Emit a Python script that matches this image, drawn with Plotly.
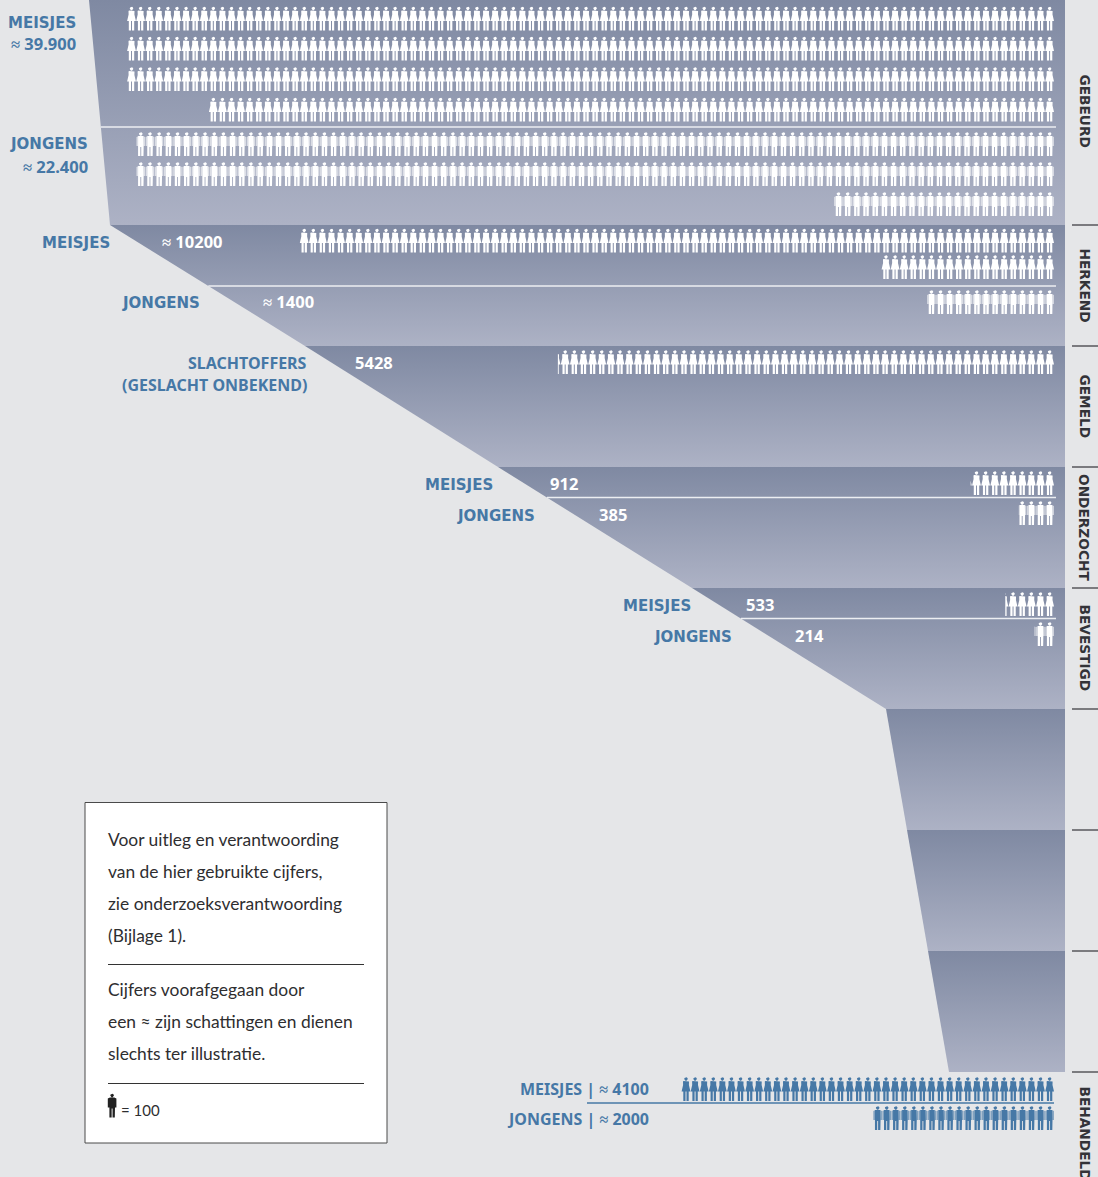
import math
import plotly.graph_objects as go

# ---------- data ----------
STAGES = ["GEBEURD", "HERKEND", "GEMELD", "ONDERZOCHT", "BEVESTIGD", "", "", "", "BEHANDELD"]
# left edge of the funnel at each stage boundary, and the boundary height
FUNNEL_EDGE = [89, 110, 305, 498, 692, 886, 907, 928, 949]
STAGE_BOUNDARY = [0, 225, 346, 467, 588, 709, 830, 951, 1072]
STAGE_LABEL_Y = [111, 285, 406, 527.5, 648, None, None, None, 1133]

# icons per row (1 icon = 100 people), rightmost icon first
MEISJES_GEBEURD = [102, 102, 102, 93]      # ~39.900
JONGENS_GEBEURD = [100, 100, 24]           # ~22.400
MEISJES_HERKEND = [83, 19]                 # ~10200
JONGENS_HERKEND = [14]                     # ~1400
ONBEKEND_GEMELD = [54.28]                  # 5428
MEISJES_ONDERZOCHT = [9.12]                # 912
JONGENS_ONDERZOCHT = [3.85]                # 385
MEISJES_BEVESTIGD = [5.33]                 # 533
JONGENS_BEVESTIGD = [2.14]                 # 214
MEISJES_BEHANDELD = [41]                   # ~4100
JONGENS_BEHANDELD = [20]                   # ~2000

BG = "#e5e6e8"
TOP = "#7f89a2"
BOTTOM = "#adb2c5"
BLUE = "#4678a6"
INK = "#333338"
RIGHT = 1054
RIGHT_FUNNEL = 1065
STEP = 9.09


def circle(cx, cy, r, n=10):
    return [(cx + r * math.cos(2 * math.pi * i / n), cy + r * math.sin(2 * math.pi * i / n)) for i in range(n)]


GIRL = [
    circle(0, 2, 1.8),
    [(-2.4, 4), (2.4, 4), (3.0, 4.6), (2.9, 8), (4.4, 14.4), (-4.4, 14.4), (-2.9, 8), (-3.0, 4.6)],
    [(-2.7, 14), (-0.5, 14), (-0.5, 24), (-2.7, 24)],
    [(0.5, 14), (2.7, 14), (2.7, 24), (0.5, 24)],
]
BOY_BODY = [
    circle(0, 2, 1.85),
    [(-2.7, 4), (2.7, 4), (2.9, 14), (2.7, 24), (0.45, 24), (0.45, 15),
     (-0.45, 15), (-0.45, 24), (-2.7, 24), (-2.9, 14)],
]
BOY_ARMS = [
    [(-4.3, 5), (-2.7, 4.2), (-2.7, 14), (-4.3, 14)],
    [(2.7, 4.2), (4.3, 5), (4.3, 14), (2.7, 14)],
]


def clip_left(poly, xmin):
    out = []
    for i, (x0, y0) in enumerate(poly):
        x1, y1 = poly[(i + 1) % len(poly)]
        if x0 >= xmin:
            out.append((x0, y0))
        if (x0 >= xmin) != (x1 >= xmin):
            t = (xmin - x0) / (x1 - x0)
            out.append((xmin, y0 + t * (y1 - y0)))
    return out


def icons_xy(rows, tops, shape, step=STEP, right=RIGHT):
    xs, ys = [], []
    half = 4.4
    for count, top in zip(rows, tops):
        whole = math.floor(count)
        frac = count - whole
        n = whole + (1 if frac > 0 else 0)
        for i in range(n):
            cx = right - half - i * step
            for part in shape:
                poly = [(cx + px, top + py) for px, py in part]
                if i == whole:
                    poly = clip_left(poly, cx + half - frac * step)
                if len(poly) < 3:
                    continue
                xs += [p[0] for p in poly] + [poly[0][0], None]
                ys += [p[1] for p in poly] + [poly[0][1], None]
    return xs, ys


fig = go.Figure()

# funnel
for i in range(len(STAGE_BOUNDARY) - 1):
    y0, y1 = STAGE_BOUNDARY[i], STAGE_BOUNDARY[i + 1]
    x0, x1 = FUNNEL_EDGE[i], FUNNEL_EDGE[i + 1]
    fig.add_trace(go.Scatter(
        x=[x0, RIGHT_FUNNEL, RIGHT_FUNNEL, x1, x0], y=[y0, y0, y1, y1, y0],
        mode="lines", line=dict(width=0), fill="toself",
        fillgradient=dict(type="vertical", start=y0, stop=y1,
                          colorscale=[[0, TOP], [1, BOTTOM]]),
        hoverinfo="skip", showlegend=False))


def edge_at(y):
    for i in range(len(STAGE_BOUNDARY) - 1):
        if STAGE_BOUNDARY[i] <= y <= STAGE_BOUNDARY[i + 1]:
            t = (y - STAGE_BOUNDARY[i]) / (STAGE_BOUNDARY[i + 1] - STAGE_BOUNDARY[i])
            return FUNNEL_EDGE[i] + t * (FUNNEL_EDGE[i + 1] - FUNNEL_EDGE[i])


def add_icons(rows, tops, shape, color, step, opacity=1.0, right=RIGHT):
    xs, ys = icons_xy(rows, tops, shape, step, right)
    fig.add_trace(go.Scatter(x=xs, y=ys, mode="lines", line=dict(width=0), fill="toself",
                             fillcolor=color, opacity=opacity, hoverinfo="skip", showlegend=False))


# icon blocks
GIRL_BLOCKS = [
    (MEISJES_GEBEURD, [6.5, 36.5, 67, 97.5], "white", STEP),
    (MEISJES_HERKEND, [228.5, 255], "white", STEP),
    (ONBEKEND_GEMELD, [350], "white", 9.14),
    (MEISJES_ONDERZOCHT, [471], "white", 9.14),
    (MEISJES_BEVESTIGD, [592], "white", 9.14),
    (MEISJES_BEHANDELD, [1077], BLUE, STEP),
]
BOY_BLOCKS = [
    (JONGENS_GEBEURD, [132, 162, 192], "white", 9.18),
    (JONGENS_HERKEND, [290], "white", STEP),
    (JONGENS_ONDERZOCHT, [501], "white", 9.14),
    (JONGENS_BEVESTIGD, [622], "white", 9.14),
    (JONGENS_BEHANDELD, [1106], BLUE, 9.05),
]
for rows, tops, color, step in GIRL_BLOCKS:
    add_icons(rows, tops, GIRL, color, step)
for rows, tops, color, step in BOY_BLOCKS:
    add_icons(rows, tops, BOY_ARMS, color, step, opacity=0.62)
    add_icons(rows, tops, BOY_BODY, color, step)

# key icon
add_icons([1], [1093.5], BOY_BODY + BOY_ARMS, "#222", STEP, right=116.5)

shapes = []


def hline(x0, x1, y, color, width=1.5):
    shapes.append(dict(type="line", x0=x0, x1=x1, y0=y, y1=y, xref="x", yref="y",
                       line=dict(color=color, width=width)))


# divider lines inside the funnel
for y in [127, 286, 497.5, 618.5]:
    hline(edge_at(y), 1056, y, "#eceef2")
hline(587, 1054, 1103, BLUE, 1.5)

# ticks on the right
for y in STAGE_BOUNDARY[1:]:
    hline(1072, 1098, y, INK, 1.2)

# key box
shapes.append(dict(type="rect", x0=85, x1=387, y0=802.5, y1=1143, xref="x", yref="y", layer="below",
                   fillcolor="white", line=dict(color="#4a4a4a", width=1)))
hline(108, 364, 964.5, "#333", 1)
hline(108, 364, 1083.5, "#333", 1)

BLUE_FONT = dict(family="Noto Sans", size=16, color=BLUE, weight=700)
NUM_BLUE = dict(family="Noto Sans", size=16.5, color=BLUE, weight=700)
WHITE_FONT = dict(family="Noto Sans", size=16.5, color="white", weight=700)
ann = []


def text(x, y, s, font, anchor="right", **kw):
    ann.append(dict(x=x, y=y, text=s, xref="x", yref="y", showarrow=False, xanchor=anchor,
                    yanchor="middle", font=font, borderpad=0, borderwidth=0, **kw))


CAPS = dict(BLUE_FONT, family="DejaVu Sans", size=15)
text(76, 22.5, "MEISJES", CAPS)
text(76, 43.5, "≈ 39.900", NUM_BLUE)
text(88, 143.5, "JONGENS", CAPS)
text(88, 166, "≈ 22.400", NUM_BLUE)
text(110, 242.5, "MEISJES", CAPS)
text(162, 241, "≈ 10200", WHITE_FONT, "left")
text(200, 302.5, "JONGENS", CAPS)
text(263, 301, "≈ 1400", WHITE_FONT, "left")
text(307, 363, "SLACHTOFFERS", BLUE_FONT)
text(307, 385, "(GESLACHT ONBEKEND)", BLUE_FONT)
text(355, 362, "5428", WHITE_FONT, "left")
text(493, 484.5, "MEISJES", CAPS)
text(550, 483, "912", WHITE_FONT, "left")
text(535, 515.5, "JONGENS", CAPS)
text(599, 514, "385", WHITE_FONT, "left")
text(691, 605.5, "MEISJES", CAPS)
text(746, 604, "533", WHITE_FONT, "left")
text(732, 636.5, "JONGENS", CAPS)
text(795, 635, "214", WHITE_FONT, "left")
text(649, 1088.5, "MEISJES | ≈ 4100", BLUE_FONT)
text(649, 1118.5, "JONGENS | ≈ 2000", BLUE_FONT)

for name, y in zip(STAGES, STAGE_LABEL_Y):
    if name:
        text(1084.5, y, name, dict(family="DejaVu Sans", size=13.7, color=INK, weight=700), "center", textangle=90)

KEY_FONT = dict(family="Lato", size=17.4, color="#2e2e30")
KEY_LINES = ["Voor uitleg en verantwoording", "van de hier gebruikte cijfers,",
             "zie onderzoeksverantwoording", "(Bijlage 1).",
             "Cijfers voorafgegaan door", "een ≈ zijn schattingen en dienen",
             "slechts ter illustratie."]
KEY_Y = [839, 871, 903, 935, 989, 1021, 1053]
for line, y in zip(KEY_LINES, KEY_Y):
    text(108, y, line, KEY_FONT, "left")
text(121, 1109.5, "= 100", dict(KEY_FONT, size=15), "left")

fig.update_layout(
    width=1098, height=1177, margin=dict(l=0, r=0, t=0, b=0),
    paper_bgcolor=BG, plot_bgcolor=BG, shapes=shapes, annotations=ann, showlegend=False,
    xaxis=dict(range=[0, 1098], visible=False, fixedrange=True),
    yaxis=dict(range=[1177, 0], visible=False, fixedrange=True),
)
fig.write_html("out.html", config=dict(displayModeBar=False),
               post_script="document.body.style.margin='0';document.body.style.overflow='hidden';document.body.style.background='%s';" % BG)
